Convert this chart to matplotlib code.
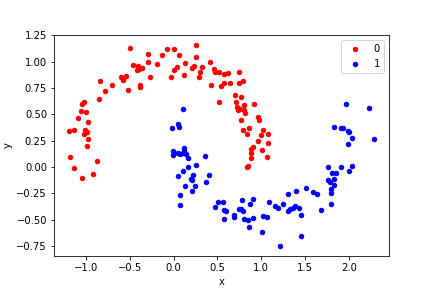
import matplotlib
matplotlib.use("Agg")
import matplotlib.pyplot as plt

x0 = [-0.50, -0.08, 0.00, 0.25, -0.29, -0.13, 0.065, 0.25, -0.46, -0.41, -0.42, -0.36, -0.39,
      -0.29, -0.19, 0.035, 0.01, 0.13, 0.23, 0.21, 0.325, 0.42, 0.306, 0.287, 0.12, -0.027,
      0.455, 0.47, 0.517, 0.57, 0.62, 0.742, 0.74, 0.79, 0.643, 0.58, 0.536, 0.43,
      -0.543, -0.60, -0.58, -0.268, -0.52, -0.387, -0.38, -0.70, -0.785, -0.834, -0.853,
      0.513, 0.704, 0.773, 0.708, 0.72, 0.754, 0.735, 0.80, 0.80, 0.81, 0.915, 0.765,
      0.796, 0.857, 0.834, 0.964, 0.976, 1.018, 0.999, 1.072, 1.075, 0.957, 0.90, 0.884,
      0.888, 0.88, 1.006, 1.07, 0.846, 0.836,
      -1.045, -1.022, -1.056, -1.003, -1.087, -0.98, -1.01, -0.99, -1.026, -0.972, -0.983,
      -1.19, -1.137, -1.186, -1.137, -0.876, -0.915, -1.049]
y0 = [1.13, 1.12, 1.115, 1.16, 1.075, 1.06, 1.06, 1.04, 0.97, 0.955, 0.92, 0.94, 0.93,
      1.00, 0.98, 0.945, 0.915, 0.99, 0.96, 0.935, 0.95, 0.995, 0.897, 0.854, 0.874, 0.851,
      0.93, 0.90, 0.897, 0.884, 0.89, 0.90, 0.80, 0.818, 0.80, 0.792, 0.766, 0.776,
      0.861, 0.851, 0.825, 0.858, 0.734, 0.773, 0.763, 0.78, 0.724, 0.812, 0.646,
      0.62, 0.685, 0.665, 0.613, 0.57, 0.55, 0.538, 0.587, 0.538, 0.515, 0.597, 0.447,
      0.355, 0.372, 0.313, 0.479, 0.447, 0.355, 0.306, 0.313, 0.231, 0.245, 0.192, 0.170,
      0.134, 0.085, 0.160, 0.098, 0.007, 0.003,
      0.597, 0.62, 0.531, 0.52, 0.463, 0.424, 0.349, 0.336, 0.31, 0.264, 0.196,
      0.346, 0.355, 0.098, -0.01, 0.062, -0.065, -0.104]

x1 = [0.107, -0.023, 0.054, 0.057, -0.011, 0.004, -0.008, 0.046, 0.073, 0.103, 0.122, 0.122,
      0.142, 0.168, 0.11, 0.16, 0.046, 0.134, 0.077, 0.077, 0.218, 0.203, 0.214, 0.207,
      0.249, 0.256, 0.356, 0.364, 0.402, 0.467, 0.501, 0.566, 0.574, 0.601, 0.57, 0.685,
      0.685, 0.742, 0.777, 0.769, 0.792, 0.80, 0.846, 0.90, 0.869, 0.90, 0.857, 1.01,
      1.018, 1.064, 1.083, 1.156, 1.19, 1.248, 1.213, 1.305, 1.30, 1.328, 1.362, 1.389,
      1.393, 1.427, 1.45, 1.45, 1.51, 1.59, 1.64, 1.68, 1.79, 1.76, 1.78, 1.79, 1.80,
      1.757, 1.806, 1.83, 1.85, 1.83, 1.91, 2.005, 2.036, 2.036, 1.99, 1.83, 1.91, 1.935,
      1.985, 2.00, 1.97, 2.223, 2.28]
y1 = [0.548, 0.372, 0.411, 0.375, 0.153, 0.134, 0.114, 0.134, 0.124, 0.13, 0.183, 0.153,
      0.124, 0.082, -0.036, 0.00, -0.088, -0.176, -0.261, -0.362, -0.072, -0.111, -0.127,
      -0.228, -0.176, 0.016, 0.108, -0.137, -0.078, -0.381, -0.333, -0.333, -0.408, -0.42,
      -0.489, -0.45, -0.473, -0.40, -0.316, -0.395, -0.414, -0.489, -0.499, -0.303, -0.352,
      -0.483, -0.567, -0.613, -0.46, -0.476, -0.333, -0.365, -0.388, -0.352, -0.75, -0.254,
      -0.42, -0.40, -0.385, -0.368, -0.231, -0.391, -0.456, -0.655, -0.202, -0.235, -0.254,
      -0.41, -0.352, -0.124, -0.14, -0.21, -0.248, 0.00, -0.059, -0.11, -0.059, -0.166,
      0.00, -0.04, 0.013, 0.277, 0.215, 0.381, 0.372, 0.368, 0.345, 0.336, 0.597, 0.557,
      0.264]

labels = ["0", "1"]
colors = ["red", "blue"]

fig, ax = plt.subplots(figsize=(6, 4), dpi=72)
for xs, ys, lab, col in zip([x0, x1], [y0, y1], labels, colors):
    ax.scatter(xs, ys, s=20, color=col, edgecolors=col, linewidths=1, label=lab)
ax.set_xlabel("x")
ax.set_ylabel("y")
ax.set_xticks([-1.0, -0.5, 0.0, 0.5, 1.0, 1.5, 2.0])
ax.set_yticks([-0.75, -0.5, -0.25, 0.0, 0.25, 0.5, 0.75, 1.0, 1.25])
ax.legend(loc="upper right")
fig.savefig("out.png", dpi=72)
